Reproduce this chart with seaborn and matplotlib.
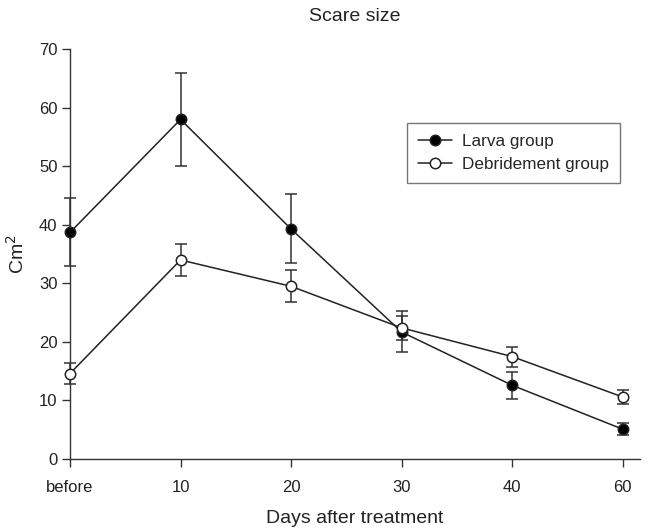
import numpy as np
import pandas as pd
import seaborn as sns
import matplotlib
matplotlib.use("Agg")
import matplotlib.pyplot as plt

days = ["before", "10", "20", "30", "40", "60"]
larva_mean = [38.7, 58.0, 39.3, 21.7, 12.6, 5.1]
larva_err = [5.8, 7.9, 5.9, 3.5, 2.3, 1.0]
debr_mean = [14.6, 34.0, 29.5, 22.4, 17.5, 10.6]
debr_err = [1.8, 2.8, 2.7, 2.0, 1.7, 1.25]

sns.set_theme(style="ticks")
plt.rcParams["font.family"] = ["Liberation Sans", "DejaVu Sans"]

pos = np.arange(len(days))
df = pd.DataFrame({"pos": np.tile(pos, 2),
                   "cm2": larva_mean + debr_mean,
                   "err": larva_err + debr_err,
                   "group": ["Larva group"] * 6 + ["Debridement group"] * 6})

fig, ax = plt.subplots(figsize=(6.5, 5.29), dpi=100)
fig.subplots_adjust(left=0.1077, right=0.985, top=0.907, bottom=0.1323)

faces = {"Larva group": "black", "Debridement group": "white"}
for name, sub in df.groupby("group", sort=False):
    ax.errorbar(sub["pos"], sub["cm2"], yerr=sub["err"], fmt="none",
                ecolor="#333333", elinewidth=1.1, capsize=4.5, capthick=1.1,
                zorder=2, clip_on=False)
    sns.lineplot(data=sub, x="pos", y="cm2", ax=ax, color="#222222", lw=1.1,
                 marker="o", markersize=7.5, markerfacecolor=faces[name],
                 markeredgecolor="#222222", markeredgewidth=1.1,
                 label=name, zorder=3, clip_on=False)

ax.set_xlim(0, 5.16)
ax.set_ylim(0, 70)
ax.set_xticks(pos)
ax.set_xticklabels(days)
ax.set_yticks(range(0, 71, 10))
ax.tick_params(direction="out", length=6, width=1, colors="#333333",
               labelsize=12, labelcolor="#222222")
ax.tick_params(axis="x", pad=9)
ax.tick_params(axis="y", pad=3)
for s in ["top", "right"]:
    ax.spines[s].set_visible(False)
for s in ["left", "bottom"]:
    ax.spines[s].set_color("#333333")
    ax.spines[s].set_linewidth(1)

ax.set_title("Scare size", fontsize=14, color="#222222", pad=20)
ax.set_xlabel("Days after treatment", fontsize=14, color="#222222", labelpad=11)
ax.set_ylabel("Cm$^2$", fontsize=14, color="#222222", labelpad=8)

leg = ax.legend(loc="upper left", bbox_to_anchor=(0.591, 0.8195), frameon=True,
                fancybox=False, edgecolor="#555555", fontsize=12.3,
                handlelength=2.0, handletextpad=0.55, borderpad=0.65,
                labelspacing=0.45, borderaxespad=0)
leg.get_frame().set_linewidth(1)

fig.savefig("out.png", dpi=100)
